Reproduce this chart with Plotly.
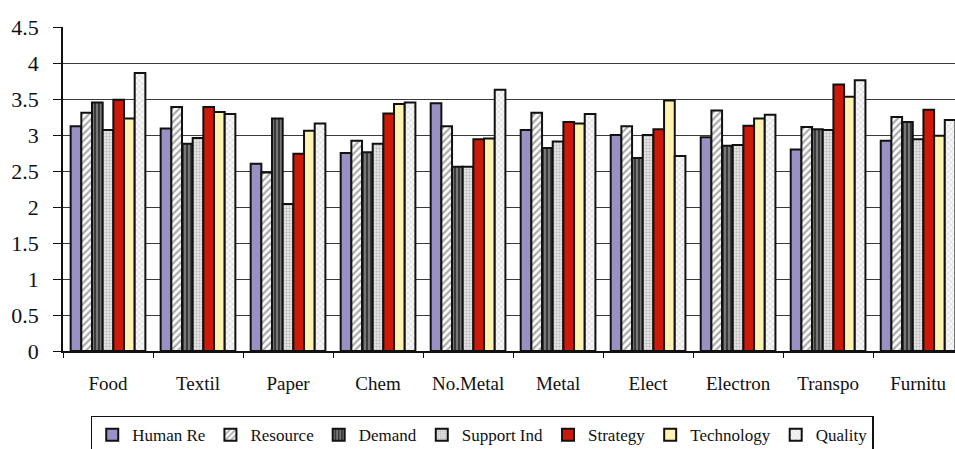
import plotly.graph_objects as go

# Industry sectors along the x axis
industries = ["Food", "Textil", "Paper", "Chem", "No.Metal", "Metal",
              "Elect", "Electron", "Transpo", "Furnitu"]

# Mean scores for each competitiveness factor, per industry
human_re = [3.12, 3.09, 2.60, 2.75, 3.44, 3.07, 3.00, 2.97, 2.80, 2.92]
resource = [3.31, 3.39, 2.48, 2.92, 3.12, 3.31, 3.12, 3.34, 3.11, 3.25]
demand = [3.45, 2.88, 3.23, 2.76, 2.56, 2.82, 2.68, 2.85, 3.08, 3.18]
support_ind = [3.07, 2.96, 2.04, 2.88, 2.56, 2.91, 3.00, 2.86, 3.07, 2.94]
strategy = [3.49, 3.39, 2.74, 3.30, 2.94, 3.18, 3.08, 3.13, 3.70, 3.35]
technology = [3.23, 3.32, 3.06, 3.43, 2.95, 3.16, 3.48, 3.23, 3.53, 2.99]
quality = [3.86, 3.29, 3.16, 3.45, 3.63, 3.29, 2.71, 3.28, 3.76, 3.21]

series = [
    ("Human Re", human_re, dict(color="#9a90c4")),
    ("Resource", resource, dict(color="#ffffff",
                                pattern=dict(shape="/", fgcolor="#555555", bgcolor="#ffffff",
                                             size=5, solidity=0.45))),
    ("Demand", demand, dict(color="#3a3a3a",
                            pattern=dict(shape="|", fgcolor="#e8e8e8", bgcolor="#3a3a3a",
                                         size=4, solidity=0.35))),
    ("Support Ind", support_ind, dict(color="#d0d0d0",
                                      pattern=dict(shape=".", fgcolor="#888888", bgcolor="#e6e6e6",
                                                   size=3, solidity=0.4))),
    ("Strategy", strategy, dict(color="#cc1a0a")),
    ("Technology", technology, dict(color="#fff3b3")),
    ("Quality", quality, dict(color="#f2f2f2",
                              pattern=dict(shape="x", fgcolor="#b5b5b5", bgcolor="#f7f7f7",
                                           size=4, solidity=0.3))),
]

fig = go.Figure()
for name, values, marker in series:
    marker = dict(marker)
    marker["line"] = dict(color="#111111", width=2)
    fig.add_trace(go.Bar(name=name, x=industries, y=values, marker=marker))

serif = "Liberation Serif, Times New Roman, serif"

fig.update_layout(
    width=955,
    height=449,
    barmode="group",
    bargap=0.17,
    bargroupgap=0,
    plot_bgcolor="#ffffff",
    paper_bgcolor="#ffffff",
    margin=dict(l=63, r=0, t=27, b=98, autoexpand=False),
    font=dict(family=serif, color="#111111"),
    showlegend=True,
    legend=dict(
        orientation="h",
        x=0.47, xanchor="center",
        y=-0.20, yanchor="top",
        bordercolor="#111111", borderwidth=1.5,
        font=dict(family=serif, size=17, color="#111111"),
        itemwidth=30,
        traceorder="normal",
        tracegroupgap=0,
    ),
    xaxis=dict(
        range=[-0.5, 9.41],
        showline=True, linecolor="#111111", linewidth=1.5,
        ticks="outside", ticklen=5, tickcolor="#111111",
        tickson="boundaries",
        ticklabelstandoff=14,
        tickfont=dict(family=serif, size=19, color="#111111"),
        showgrid=False,
    ),
    yaxis=dict(
        range=[0, 4.5],
        dtick=0.5,
        showline=True, linecolor="#111111", linewidth=1.5,
        ticks="outside", ticklen=8, tickcolor="#111111",
        ticklabelstandoff=10,
        showgrid=True, gridcolor="#3a3a3a", gridwidth=1,
        zeroline=False,
        tickfont=dict(family=serif, size=22, color="#111111"),
    ),
)

fig.write_html("out.html")
